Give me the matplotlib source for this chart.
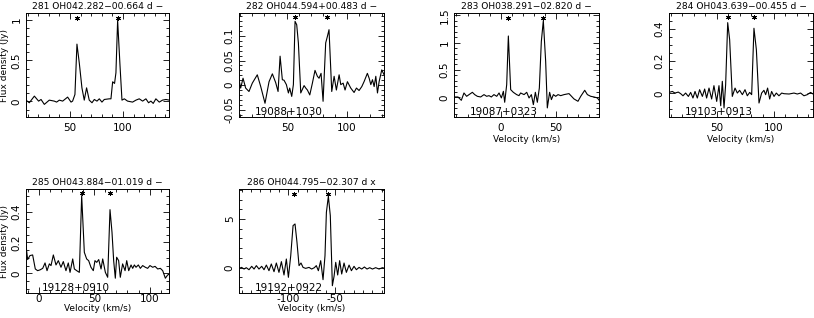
import numpy as np
import matplotlib
matplotlib.use("Agg")
import matplotlib.pyplot as plt
from matplotlib.ticker import MultipleLocator, FuncFormatter

# --- data ---
titles = ["281 OH042.282\u221200.664 d \u2212",
          "282 OH044.594+00.483 d \u2212",
          "283 OH038.291\u221202.820 d \u2212",
          "284 OH043.639\u221200.455 d \u2212",
          "285 OH043.884\u221201.019 d \u2212",
          "286 OH044.795\u221202.307 d x"]
names = [None, "19088+1030", "19087+0323", "19103+0913", "19128+0910", "19192+0922"]

v281 = [8.5, 11.6, 16.4, 20.4, 22.7, 25.8, 30.5, 35.2, 37.4, 40.0, 43.1, 47.8, 51.0, 52.5,
        54.7, 56.6, 58.8, 61.3, 63.5, 65.7, 68.2, 70.8, 73.0, 75.5, 77.7, 80.2, 82.4, 87.1,
        88.7, 90.3, 92.1, 93.4, 95.0, 97.2, 99.1, 101.3, 104.4, 109.1, 112.3, 115.4, 118.6,
        121.7, 124.2, 126.4, 128.6, 131.1, 134.3, 137.4, 140.6, 143.7]
f281 = [0.016, -0.016, 0.065, 0.004, 0.024, -0.036, 0.016, 0.004, -0.008, 0.016, 0.004,
        0.053, -0.008, 0.004, 0.085, 0.70, 0.47, 0.166, 0.016, 0.166, 0.016, -0.016, 0.024,
        0.004, 0.032, -0.008, 0.024, 0.032, 0.032, 0.24, 0.22, 0.35, 0.99, 0.45, 0.016,
        0.032, 0.004, -0.008, 0.016, 0.032, 0.004, 0.032, -0.016, 0.004, -0.024, 0.032,
        -0.008, 0.016, 0.024, 0.016]

v282 = [9.3, 10.7, 12.7, 14.9, 17.7, 20.5, 24.7, 27.6, 31.2, 34.6, 37.4, 40.2, 42.2, 43.9,
        45.8, 47.2, 49.2, 50.9, 52.0, 53.7, 55.1, 56.5, 57.9, 59.3, 61.3, 64.1, 65.5, 66.9,
        68.9, 71.1, 73.3, 75.3, 76.7, 78.4, 80.1, 82.3, 83.7, 85.1, 87.4, 89.4, 91.3, 93.6,
        95.0, 97.0, 98.6, 100.6, 103.4, 106.2, 108.2, 110.4, 112.7, 114.6, 117.4, 118.9,
        120.3, 121.7, 123.1, 124.5, 125.9, 127.3, 129.5, 131.5]
f282 = [0.011, -0.006, 0.014, -0.006, -0.013, 0.004, 0.021, -0.003, -0.037, 0.007, 0.023,
        0.005, -0.013, 0.059, 0.011, 0.010, 0.001, -0.016, -0.006, -0.023, 0.001, 0.130,
        0.123, 0.086, -0.016, -0.001, -0.006, -0.010, -0.020, 0.004, 0.030, 0.018, 0.014,
        0.024, -0.033, 0.086, 0.099, 0.113, -0.013, 0.018, -0.010, 0.021, 0.001, 0.004,
        -0.010, 0.007, -0.006, -0.015, -0.006, -0.011, -0.003, 0.007, 0.024, 0.014, 0.001,
        0.011, -0.003, 0.018, -0.016, 0.007, 0.031, 0.021]

v283 = [-42.2, -38.6, -35.6, -33.2, -30.8, -28.6, -25.6, -23.5, -21.1, -18.1, -15.1, -12.7,
        -10.6, -8.5, -6.1, -3.6, -1.5, 0.6, 2.4, 3.6, 5.4, 6.9, 9.0, 11.4, 14.4, 16.5, 18.0,
        21.1, 23.5, 25.6, 27.7, 29.5, 31.3, 33.1, 34.9, 36.7, 38.5, 40.6, 42.1, 44.2, 45.8,
        47.6, 49.7, 51.8, 54.2, 57.2, 61.7, 66.2, 69.8, 72.3, 75.9, 78.3, 81.3, 84.3, 87.3,
        89.7]
f283 = [0.006, 0.006, -0.055, 0.079, 0.018, 0.049, 0.091, 0.049, 0.018, 0.006, 0.049, 0.018,
        0.03, 0.006, 0.049, 0.018, 0.079, -0.012, 0.109, -0.091, 0.23, 1.12, 0.14, 0.091,
        0.049, 0.03, 0.079, 0.049, 0.091, -0.012, 0.049, -0.134, 0.091, -0.091, 0.17, 1.02,
        1.40, 0.66, -0.194, 0.091, -0.042, 0.049, 0.018, 0.049, 0.03, 0.049, 0.067, -0.03,
        -0.073, 0.018, 0.128, 0.049, 0.018, 0.006, -0.012, -0.073]

v284 = [8.4, 11.3, 13.6, 16.5, 18.6, 20.6, 22.9, 25.3, 27.3, 29.3, 31.1, 33.1, 35.1, 37.5,
        39.5, 41.2, 43.3, 45.6, 47.6, 50.0, 52.0, 53.5, 54.9, 56.4, 57.8, 59.6, 61.3, 63.6,
        66.0, 68.0, 70.0, 72.4, 74.7, 76.7, 78.8, 80.5, 82.5, 84.6, 86.9, 89.2, 91.2, 92.7,
        94.4, 96.2, 97.9, 100.0, 102.0, 104.3, 106.7, 108.7, 113.1, 117.4, 120.3, 123.2,
        126.1, 129.0, 131.9, 134.9]
f284 = [0.006, 0.012, 0.002, 0.008, -0.002, -0.015, 0.002, -0.019, 0.006, -0.029, 0.012,
        -0.029, 0.023, -0.019, 0.027, -0.029, 0.033, -0.035, 0.048, -0.05, 0.048, -0.077,
        0.075, -0.091, 0.054, 0.44, 0.334, -0.019, 0.033, 0.002, 0.019, -0.008, 0.023,
        -0.015, 0.006, -0.008, 0.405, 0.272, -0.06, 0.002, 0.019, -0.008, 0.033, -0.035,
        0.012, -0.019, 0.002, -0.015, 0.002, -0.002, -0.004, 0.002, -0.004, 0.002, -0.015,
        -0.008, 0.006, -0.008]

v285 = [-11.7, -10.2, -8.1, -5.7, -3.3, -1.2, 0.95, 3.4, 5.5, 7.3, 9.4, 10.9, 13.0, 15.4,
        17.5, 19.9, 22.0, 24.4, 26.5, 28.1, 30.5, 32.0, 34.1, 36.5, 38.6, 41.0, 43.1, 44.9,
        47.0, 49.1, 50.6, 52.2, 54.0, 56.1, 57.6, 60.0, 62.1, 64.2, 66.0, 67.5, 69.0, 70.2,
        72.0, 73.5, 75.6, 77.8, 79.3, 81.1, 83.2, 84.7, 86.2, 87.7, 89.8, 91.6, 93.7, 96.1,
        98.2, 100.3, 102.8, 104.9, 107.3, 109.7, 111.8, 114.2, 116.3, 118.4]
f285 = [0.18, 0.089, 0.115, 0.119, 0.028, 0.017, 0.022, 0.032, 0.067, 0.017, 0.061, 0.05,
        0.119, 0.054, 0.082, 0.039, 0.076, 0.017, 0.067, 0.006, 0.093, 0.028, 0.017, 0.006,
        0.504, 0.136, 0.093, 0.082, 0.039, 0.017, 0.082, 0.071, 0.089, 0.028, 0.093, 0.006,
        -0.026, 0.413, 0.266, 0.082, -0.032, 0.104, 0.082, -0.026, 0.061, 0.017, 0.082,
        0.017, 0.054, 0.032, 0.054, 0.039, 0.054, 0.032, 0.05, 0.039, 0.032, 0.05, 0.039,
        0.045, 0.028, 0.032, 0.017, -0.032, -0.011, -0.004]

v286 = [-152.8, -150.0, -147.4, -145.0, -142.1, -139.2, -136.7, -134.2, -131.4, -128.5,
        -126.0, -123.5, -120.7, -118.2, -115.3, -112.8, -110.0, -107.4, -104.6, -102.1,
        -99.9, -97.4, -94.9, -92.8, -90.7, -88.5, -86.4, -84.2, -81.4, -77.8, -75.0, -72.1,
        -70.0, -67.8, -65.3, -62.8, -60.7, -59.2, -57.1, -55.0, -52.8, -51.0, -49.2, -47.1,
        -45.0, -42.8, -40.3, -37.8, -34.9, -32.4, -29.6, -27.1, -24.2, -21.4, -18.5, -15.7,
        -12.8, -9.9, -6.4, -2.8, 0.8, 3.6]
f286 = [-0.07, 0.03, -0.14, 0.0, -0.21, 0.14, -0.14, 0.21, -0.14, 0.14, -0.21, 0.27, -0.31,
        0.38, -0.41, 0.48, -0.48, 0.62, -0.75, 0.89, -0.99, 1.23, 4.32, 4.49, 2.6, 0.21,
        0.48, 0.03, -0.07, 0.03, -0.14, 0.0, 0.21, -0.31, 0.72, -1.23, 1.23, 5.68, 7.33,
        5.34, -1.85, -0.89, 0.55, -0.75, 0.72, -0.65, 0.48, -0.48, 0.27, -0.31, 0.14, -0.21,
        0.03, -0.14, 0.07, -0.14, 0.0, -0.14, 0.0, -0.14, 0.0, -0.07]

velocities = [v281, v282, v283, v284, v285, v286]
fluxes = [f281, f282, f283, f284, f285, f286]
star_v = [[56.6, 95.0], [56.5, 83.7], [6.9, 38.5], [59.6, 82.5], [38.6, 64.2], [-94.0, -57.0]]
star_f = [1.02, 0.138, 1.45, 0.475, 0.52, 7.6]

xlims = [(8.5, 143.5), (9.3, 131.4), (-42.2, 88.8), (8.4, 134.0), (-11.7, 117.5), (-152.8, 2.5)]
ylims = [(-0.19, 1.08), (-0.065, 0.147), (-0.36, 1.54), (-0.147, 0.50), (-0.128, 0.547), (-2.6, 8.08)]
xticks = [[50, 100], [50, 100], [0, 50], [50, 100], [0, 50, 100], [-100, -50]]
ymajor = [0.5, 0.05, 0.5, 0.2, 0.2, 5]
yminor = [0.1, 0.01, 0.1, 0.05, 0.05, 1]
show_ylabel = [True, False, False, False, True, False]
show_xlabel = [False, False, True, True, True, True]

# axes boxes in pixels: left, top, right, bottom
W, H = 814, 318
boxes = [(26, 13, 169, 117), (239, 13, 384, 117), (454, 13, 599, 117),
         (669, 13, 813, 117), (26, 189, 169, 293), (239, 189, 384, 293)]

fig = plt.figure(figsize=(W / 100, H / 100), dpi=100)
fmt = FuncFormatter(lambda v, p: "%g" % round(v, 6))

for i in range(6):
    l, t, r, b = boxes[i]
    bottom_row = i >= 4
    ax = fig.add_axes([l / W, (H - b) / H, (r - l) / W, (b - t) / H])
    ax.plot(velocities[i], fluxes[i], color='black', lw=0.8)
    ax.plot(star_v[i], [star_f[i]] * len(star_v[i]), ls='none', marker=(6, 2, 0),
            ms=3.5, mew=0.7, color='black')
    ax.set_xlim(xlims[i])
    ax.set_ylim(ylims[i])
    ax.set_xticks(xticks[i])
    ax.xaxis.set_minor_locator(MultipleLocator(10))
    ax.yaxis.set_major_locator(MultipleLocator(ymajor[i]))
    ax.yaxis.set_minor_locator(MultipleLocator(yminor[i]))
    ax.xaxis.set_major_formatter(fmt)
    ax.yaxis.set_major_formatter(fmt)
    ax.tick_params(which='both', direction='in', top=True, right=True, width=0.6,
                   labelsize=7.5)
    ax.tick_params(axis='x', pad=0.5 if bottom_row else 4)
    ax.tick_params(axis='y', pad=3)
    ax.tick_params(which='major', length=4)
    ax.tick_params(which='minor', length=2)
    for lab in ax.get_yticklabels():
        lab.set_rotation(90)
        lab.set_va('center')
    for sp in ax.spines.values():
        sp.set_linewidth(0.7)
    ax.set_title(titles[i], fontsize=6.6, pad=3)
    if names[i]:
        ax.text(0.11, 0.0, names[i], transform=ax.transAxes, fontsize=7.5, va='bottom', ha='left')
    if show_ylabel[i]:
        ax.set_ylabel("Flux density (Jy)", fontsize=6.5, labelpad=2)
    if show_xlabel[i]:
        ax.set_xlabel("Velocity (km/s)", fontsize=6.5, labelpad=0.5 if bottom_row else 2)

fig.savefig("out.png", dpi=100)
